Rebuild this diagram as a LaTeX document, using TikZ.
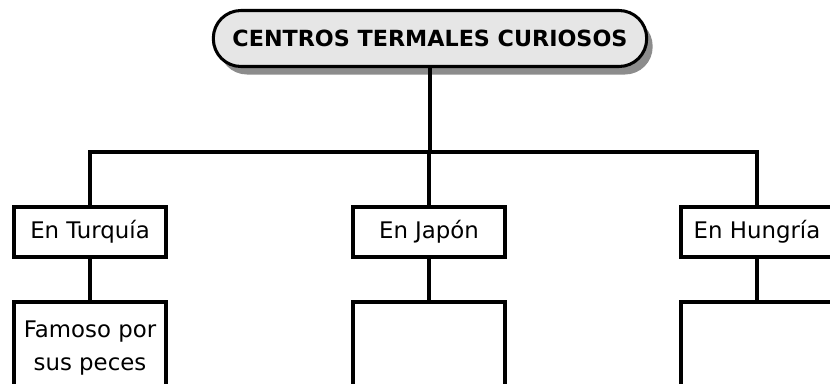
\documentclass[tikz,border=0pt]{standalone}
\usepackage{fontspec}
\setmainfont{DejaVu Sans}
\usetikzlibrary{shadows}
\definecolor{Mcolor}{RGB}{230, 230, 230}
\definecolor{Scolor}{RGB}{140, 140, 140}
\def\boxwidth{4.56cm}
\def\boxheight{1.5cm}
\def\linew{3.2pt}
\tikzset{
  titlebox/.style={draw, line width=2.6pt, fill=Mcolor, rounded corners=0.83cm,
    minimum width=13cm, minimum height=1.68cm, font=\bfseries\fontsize{19}{22}\selectfont,
    drop shadow={shadow xshift=0.18cm, shadow yshift=-0.24cm, fill=Scolor, opacity=1}},
  countrybox/.style={draw, line width=\linew, fill=white, minimum width=\boxwidth,
    minimum height=\boxheight, font=\fontsize{19.5}{23}\selectfont},
  infobox/.style={draw, line width=\linew, fill=white, minimum width=\boxwidth, anchor=north,
    inner sep=0.1cm, text height=0.98cm, text depth=3cm, font=\fontsize{19.5}{28}\selectfont},
  link/.style={line width=\linew}
}

\begin{document}
\begin{tikzpicture}[x=0.03cm, y=-0.03cm]
    \useasboundingbox (0, 0) rectangle (830, 383);
    \clip (0, 0) rectangle (830, 383);
    % title
    \node[titlebox] (title) at (430, 38.5) {CENTROS TERMALES CURIOSOS};
    \coordinate (bus) at (0, 152);
    % countries
    \node[countrybox] (C1) at (90, 232) {En Turquía};
    \node[countrybox] (C2) at (429, 232) {En Japón};
    \node[countrybox] (C3) at (757, 232) {En Hungría};
    % details
    \node[infobox] (D1) at (90, 300) {\parbox[t]{4.3cm}{\centering Famoso por\\ sus peces}};
    \node[infobox] (D2) at (429, 300) {};
    \node[infobox] (D3) at (757, 300) {};
    % connectors
    \draw[link] (title.south) -- (title.south |- bus);
    \draw[link] (C1.north) |- (C3.north |- bus) -- (C3.north);
    \draw[link] (C2.north) -- (C2.north |- bus);
    \draw[link] (C1.south) -- (D1.north);
    \draw[link] (C2.south) -- (D2.north);
    \draw[link] (C3.south) -- (D3.north);
\end{tikzpicture}
\end{document}
